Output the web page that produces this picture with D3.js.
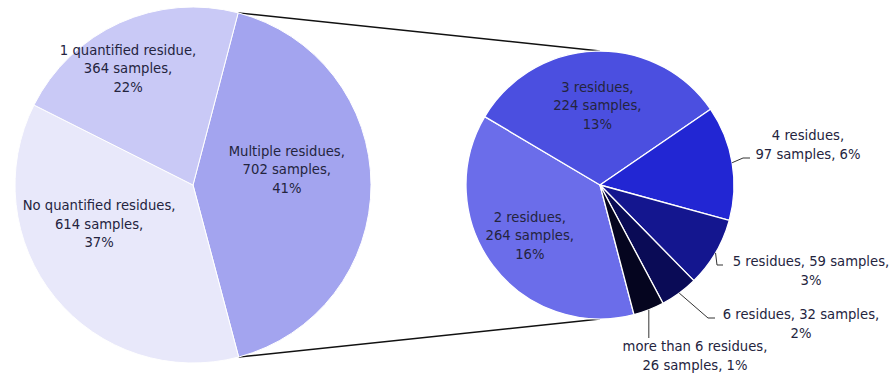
<!DOCTYPE html>
<html>
<head>
<meta charset="utf-8">
<script src="https://cdn.jsdelivr.net/npm/d3@7"></script>
<style>
  html, body { margin: 0; padding: 0; background: #fff; }
  svg { display: block; }
  text { font-family: "DejaVu Sans", Verdana, sans-serif; font-size: 13.2px; fill: #24243e; }
</style>
</head>
<body>
<svg id="chart" width="894" height="376"></svg>
<script>
// Samples grouped by number of quantified residues
const mainCategories = ["Multiple residues", "No quantified residues", "1 quantified residue"];
const mainSamples = [702, 614, 364];
const mainPercents = ["41%", "37%", "22%"];

// Breakdown of the "Multiple residues" slice
const subCategories = ["2 residues", "3 residues", "4 residues", "5 residues", "6 residues", "more than 6 residues"];
const subSamples = [264, 224, 97, 59, 32, 26];
const subPercents = ["16%", "13%", "6%", "3%", "2%", "1%"];

const mainColors = ["#a3a4ef", "#e8e8fa", "#c9c9f6"];
const subColors = ["#6b6dea", "#4b4fe0", "#2226d3", "#14168f", "#0a0b56", "#05051f"];

const svg = d3.select("#chart");
const deg = Math.PI / 180;
const lineGap = 18.5;

// ---- geometry ----
const main = { cx: 193, cy: 185, r: 178, start: 14.7 };
const sub = { cx: 600, cy: 185, r: 134, start: 165.3 };

const mainPie = d3.pie().sort(null).value(d => d.v)
  .startAngle(main.start * deg).endAngle(main.start * deg + 2 * Math.PI);
const subPie = d3.pie().sort(null).value(d => d.v)
  .startAngle(sub.start * deg).endAngle(sub.start * deg + 2 * Math.PI);

const mainArcs = mainPie(mainCategories.map((c, i) => ({ name: c, v: mainSamples[i], pct: mainPercents[i], color: mainColors[i] })));
const subArcs = subPie(subCategories.map((c, i) => ({ name: c, v: subSamples[i], pct: subPercents[i], color: subColors[i] })));

const polar = (p, a, rad) => [p.cx + rad * Math.sin(a), p.cy - rad * Math.cos(a)];

// ---- connector lines between the "Multiple residues" slice and the breakdown pie ----
const multi = mainArcs[0];
const topA = polar(main, multi.startAngle, main.r);
const botA = polar(main, multi.endAngle, main.r);
const topB = [sub.cx, sub.cy - sub.r];
const botB = [sub.cx, sub.cy + sub.r];
svg.append("g").attr("stroke", "#111").attr("stroke-width", 1.4)
  .selectAll("line").data([[topA, topB], [botA, botB]]).join("line")
  .attr("x1", d => d[0][0]).attr("y1", d => d[0][1])
  .attr("x2", d => d[1][0]).attr("y2", d => d[1][1]);

// ---- pies ----
function drawPie(p, arcs, strokeW) {
  const arc = d3.arc().innerRadius(0).outerRadius(p.r);
  svg.append("g").attr("transform", `translate(${p.cx},${p.cy})`)
    .selectAll("path").data(arcs).join("path")
    .attr("d", arc)
    .attr("fill", d => d.data.color)
    .attr("stroke", "#fff")
    .attr("stroke-width", strokeW)
    .attr("stroke-linejoin", "round");
}
drawPie(main, mainArcs, 1);
drawPie(sub, subArcs, 1.3);

// ---- labels ----
// Inside labels: offset from the slice centroid at 60% radius
const mainLabelLayout = [
  { dx: -13, dy: -15 },
  { dx: -11, dy: -28 },
  { dx: -21, dy: -19 }
];
function lines3(d) { return [d.name + ",", d.v + " samples,", d.pct]; }

function drawBlock(x, y, lines) {
  const t = svg.append("text").attr("text-anchor", "middle");
  const n = lines.length;
  lines.forEach((s, i) => {
    t.append("tspan").attr("x", x)
      .attr("y", y + (i - (n - 1) / 2) * lineGap + 4.6)
      .text(s);
  });
}

mainArcs.forEach((d, i) => {
  const c = d3.arc().innerRadius(main.r * 0.6).outerRadius(main.r * 0.6).centroid(d);
  const L = mainLabelLayout[i];
  drawBlock(main.cx + c[0] + L.dx, main.cy + c[1] + L.dy, lines3(d.data));
});

// Breakdown labels: inside for large slices, outside with leader lines for small ones
const subLabelLayout = [
  { inside: true, dx: -6, dy: 2.5, split: d => lines3(d) },
  { inside: true, dx: 0, dy: 1, split: d => lines3(d) },
  { tx: 208, ty: -40, leader: [[143, -27], [150, -27]],
    split: d => [d.name + ",", d.v + " samples, " + d.pct] },
  { tx: 211, ty: 86, leader: [[117, 80], [123, 80]],
    split: d => [d.name + ", " + d.v + " samples,", d.pct] },
  { tx: 201, ty: 139, leader: [[108, 133], [115, 133]],
    split: d => [d.name + ", " + d.v + " samples,", d.pct] },
  { tx: 95, ty: 171, leader: [[null, 153]],
    split: d => [d.name + ",", d.v + " samples, " + d.pct] }
];

const leaderG = svg.append("g").attr("fill", "none").attr("stroke", "#333").attr("stroke-width", 1);
subArcs.forEach((d, i) => {
  const L = subLabelLayout[i];
  if (L.inside) {
    const c = d3.arc().innerRadius(sub.r * 0.6).outerRadius(sub.r * 0.6).centroid(d);
    drawBlock(sub.cx + c[0] + L.dx, sub.cy + c[1] + L.dy, L.split(d.data));
  } else {
    const mid = (d.startAngle + d.endAngle) / 2;
    const e = polar(sub, mid, sub.r);
    const pts = [e].concat(L.leader.map(p => [p[0] === null ? e[0] : sub.cx + p[0], sub.cy + p[1]]));
    leaderG.append("path").attr("d", d3.line()(pts));
    drawBlock(sub.cx + L.tx, sub.cy + L.ty, L.split(d.data));
  }
});
</script>
</body>
</html>
